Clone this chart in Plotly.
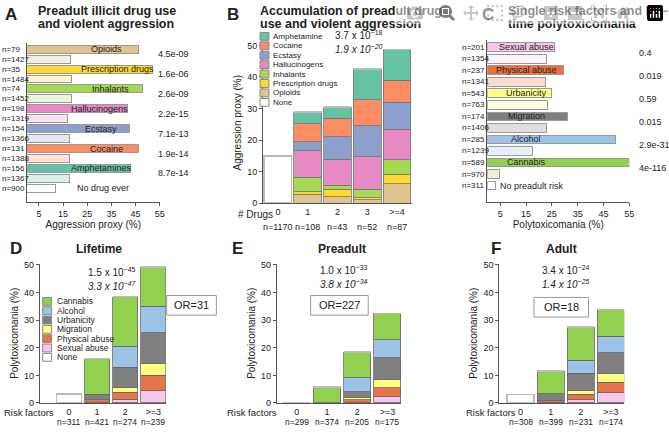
import plotly.graph_objects as go

# ---------------- data ----------------
drugs_a = ["Opioids", "Prescription drugs", "Inhalants", "Hallucinogens", "Ecstasy", "Cocaine", "Amphetamines"]
exposed_a = [46, 52, 48, 41.5, 42.5, 46, 43]
ref_a = [18, 18.5, 18.5, 17, 17.5, 17.5, 17.5]
n_exp_a = [79, 35, 74, 198, 154, 131, 156]
n_ref_a = [1427, 1484, 1452, 1319, 1366, 1388, 1367]
p_a = ["4.5e-09", "1.6e-06", "2.6e-09", "2.2e-15", "7.1e-13", "1.9e-14", "8.7e-14"]
none_a = 12
n_none_a = 900
colors_a = ["#e0c48e", "#ffd92f", "#a6d854", "#e78ac3", "#8da0cb", "#fc8d62", "#66c2a5"]
light_a = ["#f7eee0", "#fff5cc", "#ebf5d9", "#f9e2f0", "#e3e7f2", "#fee2d8", "#d9efe8"]

cats_b = ["0", "1", "2", "3", ">=4"]
n_b = [1170, 108, 43, 52, 87]
series_b = ["Opioids", "Prescription drugs", "Inhalants", "Hallucinogens", "Ecstasy", "Cocaine", "Amphetamine"]
vals_b = {
    "Opioids":            [0, 2.8, 2.0, 1.1, 6.1],
    "Prescription drugs": [0, 0.8, 2.5, 0.6, 3.1],
    "Inhalants":          [0, 4.6, 1.2, 2.7, 4.6],
    "Hallucinogens":      [0, 8.4, 8.2, 10.3, 9.7],
    "Ecstasy":            [0, 2.8, 7.1, 9.8, 8.5],
    "Cocaine":            [0, 5.7, 6.0, 8.3, 7.0],
    "Amphetamine":        [0, 3.8, 3.5, 9.7, 9.7],
}
none_b = [15, 0, 0, 0, 0]
colors_b = ["#e0c48e", "#ffd92f", "#a6d854", "#e78ac3", "#8da0cb", "#fc8d62", "#66c2a5"]

risks_c = ["Sexual abuse", "Physical abuse", "Urbanicity", "Migration", "Alcohol", "Cannabis"]
exposed_c = [26, 29.6, 24.7, 31, 49.7, 55.5]
ref_c = [23, 22.6, 23.2, 22.8, 17.4, 4.7]
n_exp_c = [201, 237, 543, 174, 285, 589]
n_ref_c = [1354, 1341, 763, 1406, 1239, 970]
p_c = ["0.4", "0.019", "0.59", "0.015", "2.9e-31", "4e-116"]
none_c = 3
n_none_c = 311
colors_c = ["#f7c6ec", "#e8703f", "#ffff88", "#7f7f7f", "#9dc3e6", "#92d050"]
light_c = ["#fdf1fa", "#f9dbcf", "#ffffe1", "#dfdfdf", "#e6f0f9", "#e4f3d3"]

cats_def = ["0", "1", "2", ">=3"]
series_def = ["Sexual abuse", "Physical abuse", "Migration", "Urbanicity", "Alcohol", "Cannabis"]
colors_def = ["#f9c6ec", "#e8744a", "#ffff80", "#808080", "#9cc3e6", "#92d050"]
vals_d = {"Sexual abuse": [0, 0.2, 1.3, 4.4], "Physical abuse": [0, 0.9, 2.5, 5.7],
          "Migration": [0, 0, 1.7, 4.2], "Urbanicity": [0, 2.0, 7.5, 11.2],
          "Alcohol": [0, 0, 7.6, 9.6], "Cannabis": [0, 13.0, 17.9, 14.2]}
none_d = [3.2, 0, 0, 0]
n_d = [311, 421, 274, 239]
vals_e = {"Sexual abuse": [0, 0, 0.3, 2.4], "Physical abuse": [0, 0, 0.8, 3.1],
          "Migration": [0, 0, 0.8, 2.9], "Urbanicity": [0, 0, 2.2, 7.9],
          "Alcohol": [0, 0, 5.0, 6.6], "Cannabis": [0, 5.7, 9.3, 9.6]}
none_e = [0, 0, 0, 0]
n_e = [299, 374, 205, 175]
vals_f = {"Sexual abuse": [0, 0.3, 1.2, 3.8], "Physical abuse": [0, 0.6, 2.0, 3.7],
          "Migration": [0, 0, 1.3, 3.2], "Urbanicity": [0, 2.4, 6.3, 7.5],
          "Alcohol": [0, 0, 4.6, 6.0], "Cannabis": [0, 8.2, 12.2, 9.6]}
none_f = [3.0, 0, 0, 0]
n_f = [308, 399, 231, 174]

legend_def = ["Cannabis", "Alcohol", "Urbanicity", "Migration", "Physical abuse", "Sexual abuse"]

# ---------------- helpers ----------------
W, H = 669, 432
def px(x): return x / W
def py(y): return 1 - y / H

FONT = "Arial, Liberation Sans, sans-serif"
LINE = "#9a9a9a"
AX = "#555555"
fig = go.Figure()
ann = []
shapes = []

def text(x, y, t, size=9, xa="left", ya="middle", xref="paper", yref="paper", **kw):
    ann.append(dict(x=x, y=y, text=t, xref=xref, yref=yref, xanchor=xa, yanchor=ya,
                    showarrow=False, font=dict(size=size, family=FONT, color="#222"), **kw))

def axis_common():
    return dict(showline=True, linecolor=AX, linewidth=1, ticks="outside", ticklen=3,
                tickcolor=AX, showgrid=False, zeroline=False,
                tickfont=dict(size=9, family=FONT, color="#222"))

# ---------------- panel A ----------------
ya_pos, xa_val, cols, labels_n = [], [], [], []
for i, d in enumerate(drugs_a):
    ya_pos += [2 * i, 2 * i + 1]
    xa_val += [exposed_a[i], ref_a[i]]
    cols += [colors_a[i], light_a[i]]
    labels_n += [f"n={n_exp_a[i]}", f"n={n_ref_a[i]}"]
ya_pos.append(2 * len(drugs_a)); xa_val.append(none_a); cols.append("white"); labels_n.append(f"n={n_none_a}")
fig.add_trace(go.Bar(x=xa_val, y=ya_pos, orientation="h", width=0.8,
                     marker=dict(color=cols, line=dict(color=LINE, width=1)),
                     xaxis="x", yaxis="y", showlegend=False))
for pos, lab in zip(ya_pos, labels_n):
    text(px(0), pos, lab, size=8, yref="y")
for i, d in enumerate(drugs_a):
    text(exposed_a[i] * 0.72, 2 * i, d, size=9, xa="center", xref="x", yref="y")
    text(px(157), 2 * i + 0.5, p_a[i], size=9, yref="y")
text(20, 2 * len(drugs_a), "No drug ever", size=9, xref="x", yref="y")

# ---------------- panel B ----------------
for s, c in zip(series_b, colors_b):
    fig.add_trace(go.Bar(x=list(range(len(cats_b))), y=vals_b[s], width=0.93, name=s,
                         marker=dict(color=c, line=dict(color="#777", width=0.8)),
                         xaxis="x2", yaxis="y2", showlegend=False))
fig.add_trace(go.Bar(x=list(range(len(cats_b))), y=none_b, width=0.93,
                     marker=dict(color="white", line=dict(color="#bbb", width=1.5)),
                     xaxis="x2", yaxis="y2", showlegend=False))
for i, n in enumerate(n_b):
    text(i, py(228), f"n={n}", size=9, xa="center", xref="x2")

# ---------------- panel C ----------------
yc_pos, xc_val, ccols, nlab_c = [], [], [], []
for i, r in enumerate(risks_c):
    yc_pos += [2 * i, 2 * i + 1]
    xc_val += [exposed_c[i], ref_c[i]]
    ccols += [colors_c[i], light_c[i]]
    nlab_c += [f"n={n_exp_c[i]}", f"n={n_ref_c[i]}"]
yc_pos.append(2 * len(risks_c)); xc_val.append(none_c); ccols.append("white"); nlab_c.append(f"n={n_none_c}")
fig.add_trace(go.Bar(x=xc_val, y=yc_pos, orientation="h", width=0.75,
                     marker=dict(color=ccols, line=dict(color=LINE, width=1)),
                     xaxis="x3", yaxis="y3", showlegend=False))
for pos, lab in zip(yc_pos, nlab_c):
    text(px(463), pos, lab, size=8, yref="y3")
for i, r in enumerate(risks_c):
    text(15, 2 * i, r, size=9, xa="center", xref="x3", yref="y3")
    text(px(642), 2 * i + 0.5, p_c[i], size=9, yref="y3")
text(4.2, 2 * len(risks_c), "No preadult risk", size=9, xref="x3", yref="y3")

# ---------------- panels D, E, F ----------------
for vals, none, ns, xa, yaax in [(vals_d, none_d, n_d, "x4", "y4"),
                                 (vals_e, none_e, n_e, "x5", "y5"),
                                 (vals_f, none_f, n_f, "x6", "y6")]:
    for s, c in zip(series_def, colors_def):
        fig.add_trace(go.Bar(x=list(range(len(cats_def))), y=vals[s], width=0.9, name=s,
                             marker=dict(color=c, line=dict(color="#666", width=0.8)),
                             xaxis=xa, yaxis=yaax, showlegend=False))
    fig.add_trace(go.Bar(x=list(range(len(cats_def))), y=none, width=0.9,
                         marker=dict(color="white", line=dict(color="#bbb", width=1.5)),
                         xaxis=xa, yaxis=yaax, showlegend=False))
    for i, n in enumerate(ns):
        text(i, py(427), f"n={n}", size=8.5, xa="center", xref=xa)

# ---------------- manual legends ----------------
leg_b = list(zip(series_b, colors_b))[::-1] + [("None", "white")]
for j, (s, c) in enumerate(leg_b):
    yc = 34 + j * 9.6
    shapes.append(dict(type="rect", xref="paper", yref="paper", x0=px(262), x1=px(271),
                       y0=py(yc + 4), y1=py(yc - 4), fillcolor=c, line=dict(color="#888", width=1)))
    text(px(273), py(yc), s, size=8)
cmap = dict(zip(series_def, colors_def))
leg_d = [(s, cmap[s]) for s in legend_def] + [("None", "white")]
for j, (s, c) in enumerate(leg_d):
    yc = 304 + j * 9.5
    shapes.append(dict(type="rect", xref="paper", yref="paper", x0=px(43), x1=px(52),
                       y0=py(yc + 4), y1=py(yc - 4), fillcolor=c, line=dict(color="#888", width=1)))
    text(px(55), py(yc), s, size=8.5)

# ---------------- titles & texts ----------------
def panel_title(letter, lx, ly, lines, tx):
    text(px(lx), py(ly), f"<b>{letter}</b>", size=17)
    for i, l in enumerate(lines):
        text(px(tx), py(ly - 4 + i * 13), f"<b>{l}</b>", size=12.5)

panel_title("A", 3, 12, ["Preadult illicit drug use", "and violent aggression"], 36)
panel_title("B", 227, 12, ["Accumulation of preadult drug", "use and violent aggression"], 260)
panel_title("C", 484, 12, ["Single risk factors and life-", "time polytoxicomania"], 510)
text(px(8), py(250), "<b>D</b>", size=17)
text(px(232), py(250), "<b>E</b>", size=17)
text(px(493), py(250), "<b>F</b>", size=17)
text(px(100), py(251), "<b>Lifetime</b>", size=12, xa="center")
text(px(345), py(251), "<b>Preadult</b>", size=12, xa="center")
text(px(566), py(251), "<b>Adult</b>", size=12, xa="center")

def stats(x, y, a, b):
    text(px(x), py(y), a, size=10)
    text(px(x), py(y + 14), f"<i>{b}</i>", size=10)
stats(336, 33, "3.7 x 10<sup>−18</sup>", "1.9 x 10<sup>−20</sup>")
stats(87, 274, "1.5 x 10<sup>−45</sup>", "3.3 x 10<sup>−47</sup>")
stats(320, 272, "1.0 x 10<sup>−33</sup>", "3.8 x 10<sup>−34</sup>")
stats(544, 272, "3.4 x 10<sup>−24</sup>", "1.4 x 10<sup>−25</sup>")

def orbox(x0, x1, y0, y1, t):
    shapes.append(dict(type="rect", xref="paper", yref="paper", x0=px(x0), x1=px(x1),
                       y0=py(y1), y1=py(y0), line=dict(color="#999", width=1), fillcolor="white"))
    text(px((x0 + x1) / 2), py((y0 + y1) / 2), t, size=11, xa="center")
orbox(168, 218, 298, 318, "OR=31")
orbox(313, 371, 298, 318, "OR=227")
orbox(538, 593, 300, 320, "OR=18")

text(px(238), py(215), "# Drugs", size=10)
text(px(2), py(417), "Risk factors", size=9.5)
text(px(227), py(417), "Risk factors", size=9.5)
text(px(467), py(417), "Risk factors", size=9.5)

xt_a = axis_common() | dict(range=[0, 55], tickvals=[5, 15, 25, 35, 45, 55])
layout_axes = dict(
    xaxis=xt_a | dict(domain=[px(27), px(161)], anchor="y",
                      title=dict(text="Aggression proxy (%)", font=dict(size=10, family=FONT), standoff=2)),
    yaxis=dict(domain=[py(203), py(41)], range=[15.4, -0.6], showticklabels=False, showline=True,
               linecolor=AX, showgrid=False, zeroline=False, anchor="x"),
    xaxis2=axis_common() | dict(domain=[px(265), px(415)], range=[-0.5, 4.5], anchor="y2",
                                tickvals=list(range(5)), ticktext=cats_b, ticks=""),
    yaxis2=axis_common() | dict(domain=[py(204), py(40)], range=[0, 51], dtick=10, anchor="x2",
                                title=dict(text="Aggression proxy (%)", font=dict(size=10, family=FONT), standoff=3)),
    xaxis3=xt_a | dict(domain=[px(491), px(634)], anchor="y3",
                       title=dict(text="Polytoxicomania (%)", font=dict(size=10, family=FONT), standoff=2)),
    yaxis3=dict(domain=[py(203), py(38)], range=[13.45, -0.6], showticklabels=False, showline=True,
                linecolor=AX, showgrid=False, zeroline=False, anchor="x3"),
)
for idx, (x0, x1, lo) in zip([4, 5, 6], [(40, 167, -1.05), (279, 404, -0.66), (503, 629, -0.71)]):
    layout_axes[f"xaxis{idx}"] = axis_common() | dict(domain=[px(x0), px(x1)], range=[lo, 3.45],
                                                      anchor=f"y{idx}", tickvals=list(range(4)),
                                                      ticktext=cats_def, ticks="")
    layout_axes[f"yaxis{idx}"] = axis_common() | dict(domain=[py(407.5), py(265.5)], range=[0, 50.5],
                                                      dtick=10, anchor=f"x{idx}",
                                                      title=dict(text="Polytoxicomania (%)", font=dict(size=10, family=FONT), standoff=3))

fig.update_layout(width=W, height=H, autosize=False, margin=dict(l=0, r=0, t=0, b=0),
                  paper_bgcolor="white", plot_bgcolor="white", barmode="stack",
                  font=dict(family=FONT, size=9, color="#222"),
                  annotations=ann, shapes=shapes, showlegend=False, **layout_axes)
fig.write_html("out.html", post_script="document.body.style.margin='0';document.body.style.overflow='hidden';")
